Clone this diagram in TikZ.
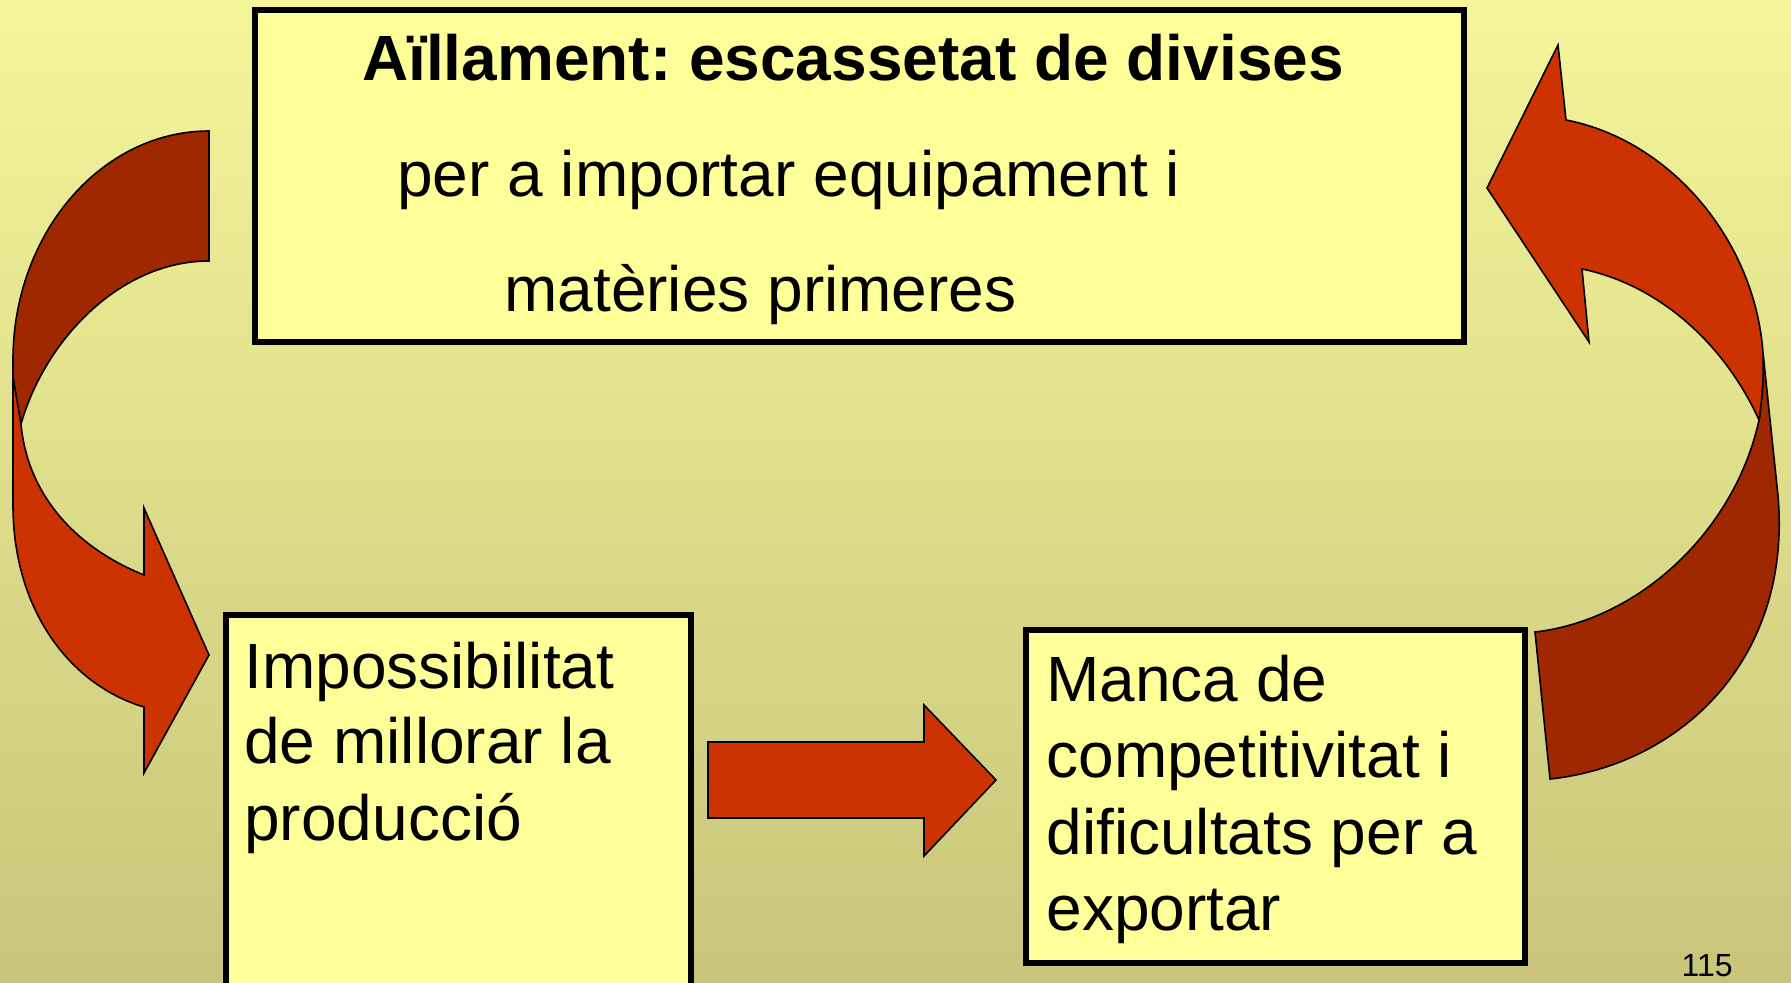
\documentclass[tikz,border=0pt]{standalone}
\usepackage{fontspec}
\setmainfont{Liberation Sans}
\usetikzlibrary{positioning}
\frenchspacing

\definecolor{bgtop}{HTML}{F5F59A}
\definecolor{bgbot}{HTML}{C8C57B}
\definecolor{boxfill}{HTML}{FFFF99}
\definecolor{arrowred}{HTML}{CC3300}
\definecolor{arrowdark}{HTML}{A02800}

\tikzset{
  slidebox/.style={draw=black, line width=3pt, fill=boxfill, anchor=north west, inner sep=0pt, outer sep=0pt},
  boxtext/.style={anchor=base west, inner sep=0pt, font=\fontsize{32}{38}\selectfont},
  fatarrow/.style={draw=black, line width=0.8pt, fill=arrowred},
  backarrow/.style={draw=black, line width=0.8pt, fill=arrowdark}
}

\begin{document}
\begin{tikzpicture}[x=0.5pt, y=-0.5pt]
\useasboundingbox (0,0) rectangle (1791,982);
\shade[top color=bgtop, bottom color=bgbot] (0,0) rectangle (1791,982);
\clip (0,0) rectangle (1791,982);

% boxes
\node[slidebox, minimum width=604.5pt, minimum height=166pt] (aillament) at (255,10) {};
\node[slidebox, minimum width=232.5pt, minimum height=195pt] (impossib) at (226,615) {};
\node[slidebox, minimum width=249.5pt, minimum height=166.5pt] (manca) at (1026,630) {};

% text of the top box
\node[boxtext, anchor=base, font=\fontsize{32}{38}\selectfont\bfseries] (ail1) at (853,80) {Aïllament: escassetat de divises};
\node[boxtext] (ail2) at (397,196) {per a importar equipament i};
\node[boxtext] (ail3) at (504,311) {matèries primeres};

% text of the bottom boxes
\node[boxtext] (imp1) at (244,688) {Impossibilitat};
\node[boxtext] (imp2) at (244,763) {de millorar la};
\node[boxtext] (imp3) at (244,840) {producció};
\node[boxtext] (man1) at (1046,701) {Manca de};
\node[boxtext] (man2) at (1046,777) {competitivitat i};
\node[boxtext] (man3) at (1046,854) {dificultats per a};
\node[boxtext] (man4) at (1046,930) {exportar};

% left curved arrow
\draw[backarrow] (209,131) .. controls (101,131) and (13,234) .. (13,360) -- (13,424) -- (21,424)
  .. controls (45,340) and (120,261) .. (209,261) -- cycle;
\draw[fatarrow] (13,376) -- (13,505) .. controls (13,610) and (70,685) .. (144,707) -- (144,773)
  -- (209,655) -- (144,508) -- (144,575) .. controls (70,545) and (27,490) .. (21,424)
  .. controls (18,405) and (15,390) .. (13,376) -- cycle;

% straight arrow
\draw[fatarrow] (708,742) -- (924,742) -- (924,705) -- (996,780) -- (924,856) -- (924,818) -- (708,818) -- cycle;

% right curved arrow
\draw[backarrow] (1763,353) -- (1778,496) .. controls (1792,660) and (1680,765) .. (1550,779) -- (1535,632)
  .. controls (1640,620) and (1735,530) .. (1759,420) .. controls (1762,400) and (1764,375) .. (1763,353) -- cycle;
\draw[fatarrow] (1487,188) -- (1558,45) -- (1566,120) .. controls (1670,140) and (1755,240) .. (1763,353)
  .. controls (1764,375) and (1762,400) .. (1759,420) .. controls (1725,345) and (1660,285) .. (1582,269)
  -- (1589,342) -- cycle;

% page number
\node[anchor=base east, inner sep=0pt, font=\fontsize{16}{19}\selectfont] (pagenum) at (1733,976) {115};
\end{tikzpicture}
\end{document}
